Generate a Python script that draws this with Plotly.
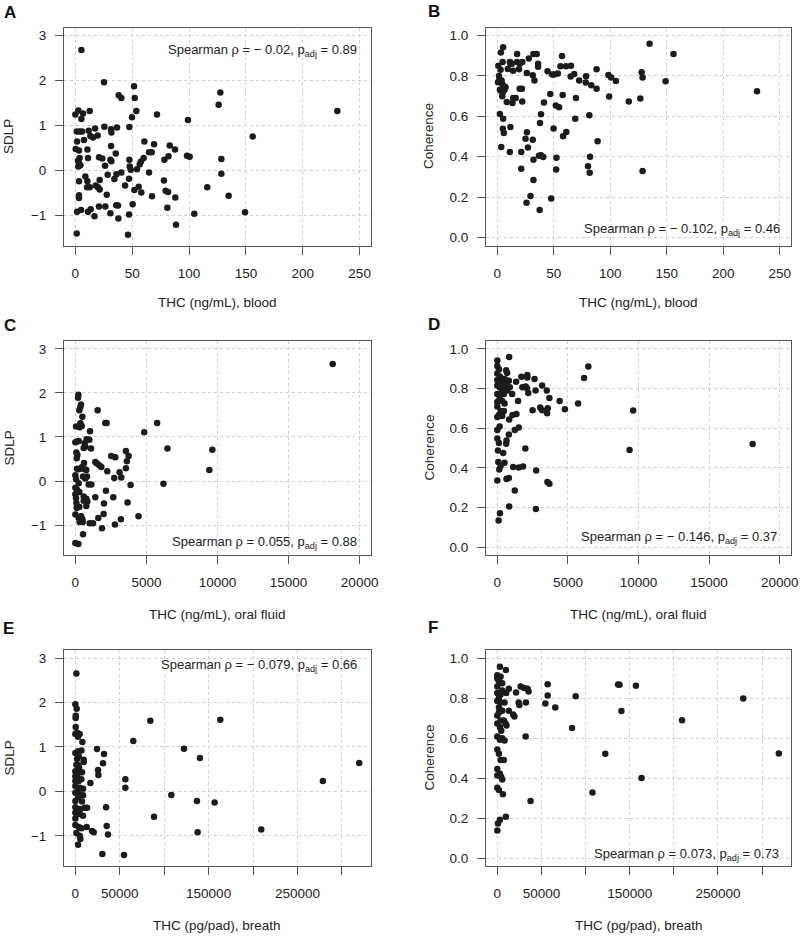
import plotly.graph_objects as go

W, H = 800, 938
FONT = "Liberation Sans, Arial, Helvetica, sans-serif"

# ---------------- data ----------------
# A: THC blood (ng/mL) vs SDLP
a_x = [5.3, 25.2, 51.6, 38.1, 40.4, 52.2, 127.5, 126, 230.4, 2.6,
       0, 6.7, 12.6, 5.3, 49.8, 53.6, 71.8, 99, 156, 25.5,
       47.5, 31.4, 36.6, 31.7, 1.2, 3.8, 5.9, 11.7, 17.3, 13.2,
       15.5, 19.6, 1.5, 7.6, 0.3, 3.2, 10.6, 2.3, 3.8, 3.2,
       2.6, 4.4, 11.1, 20.8, 23.7, 30.8, 31.7, 35.5, 31.4, 26.1,
       60.7, 64.8, 67.1, 69.2, 83, 87.6, 78.3, 81.9, 98.2, 100.5,
       128.4, 128.4, 47.5, 47.8, 48.7, 54.2, 56.6, 57.7, 60.1, 3.2,
       8.8, 10.6, 10.3, 12.6, 17.9, 19.9, 21.4, 21.4, 28.4, 34.3,
       36.1, 40.4, 47.2, 43.7, 51.9, 55.7, 58, 64.8, 77.9, 79.4,
       81.5, 87.9, 116, 134.8, 67.4, 27.6, 3.2, 3.2, 1.5, 5,
       11.1, 13.5, 16.8, 20.8, 26.4, 30.8, 36, 37.5, 37.8, 47.2,
       50.4, 80.9, 88.5, 104.6, 149.2, 1.2, 46.3]
a_y = [2.68, 1.96, 1.87, 1.67, 1.61, 1.61, 1.73, 1.46, 1.32, 1.33,
       1.24, 1.26, 1.32, 1.14, 1.18, 1.32, 1.24, 1.12, 0.75, 0.97,
       0.96, 0.91, 0.95, 0.84, 0.86, 0.86, 0.86, 0.88, 0.93, 0.76,
       0.73, 0.77, 0.64, 0.67, 0.47, 0.44, 0.46, 0.21, 0.27, 0.15,
       0.08, 0.11, 0.27, 0.29, 0.26, 0.23, 0.20, 0.37, 0.54, 0.10,
       0.64, 0.40, 0.40, 0.58, 0.55, 0.46, 0.23, 0.31, 0.32, 0.30,
       0.25, -0.08, 0.23, 0.08, 0.01, 0.02, 0.13, 0.19, 0.27, -0.25,
       -0.14, -0.25, -0.38, -0.38, -0.34, -0.38, -0.22, -0.43, -0.10, -0.20,
       -0.09, -0.05, -0.19, -0.34, -0.44, -0.37, -0.50, -0.05, -0.23, -0.46,
       -0.49, -0.61, -0.38, -0.57, -0.58, -0.55, -0.56, -0.62, -0.93, -0.89,
       -0.93, -0.87, -1.03, -0.81, -0.81, -0.96, -0.78, -0.79, -1.08, -0.99,
       -0.76, -0.84, -1.22, -0.97, -0.94, -1.41, -1.44]

# B: THC blood (ng/mL) vs Coherence
b_x = [134.8, 156, 229.9, 5.2, 3.2, 17.5, 27.9, 32, 34.9, 57.3,
       0.9, 2.9, 4.7, 11.1, 12.8, 11.6, 9.3, 14, 17.5, 22.1,
       19.2, 26.2, 31.4, 32.9, 36.1, 36.1, 44.5, 48.6, 50.3, 53.6,
       55.9, 60.8, 65.2, 64.9, 68.1, 72.5, 78.6, 78.3, 83.2, 87.9,
       87.9, 98.4, 100.7, 105, 127.8, 128.6, 149, 0.6, 2, 3.8,
       4.4, 5.8, 7.3, 2.3, 3.5, 4.9, 4.4, 6.4, 19.8, 21.8,
       8.4, 14, 16.3, 13.4, 22.1, 41.3, 46.9, 51.8, 54.7, 57.9,
       69.6, 99, 116.4, 126.6, 2.3, 5.2, 4.9, 5.8, 11.6, 26.2,
       25, 31.4, 37.8, 38.7, 49.8, 58.2, 61.1, 69, 81.5, 88.8,
       3.5, 11.1, 21.2, 27.1, 32, 36.9, 38.7, 40.7, 52.4, 52.1,
       82.1, 80.3, 81.8, 128.6, 21.2, 32, 29.4, 25.9, 47.7, 37.5,
       20, 1.5]
b_y = [0.959, 0.909, 0.724, 0.942, 0.916, 0.909, 0.886, 0.909, 0.909, 0.899,
       0.850, 0.831, 0.869, 0.869, 0.860, 0.861, 0.835, 0.826, 0.869, 0.869,
       0.833, 0.815, 0.803, 0.777, 0.860, 0.845, 0.823, 0.807, 0.807, 0.812,
       0.848, 0.848, 0.850, 0.797, 0.810, 0.777, 0.798, 0.767, 0.754, 0.833,
       0.736, 0.805, 0.792, 0.775, 0.818, 0.792, 0.774, 0.769, 0.782, 0.777,
       0.760, 0.749, 0.744, 0.731, 0.724, 0.719, 0.699, 0.731, 0.737, 0.737,
       0.671, 0.691, 0.691, 0.666, 0.674, 0.669, 0.711, 0.653, 0.645, 0.706,
       0.691, 0.698, 0.673, 0.688, 0.612, 0.588, 0.539, 0.517, 0.547, 0.521,
       0.489, 0.484, 0.567, 0.610, 0.540, 0.501, 0.522, 0.588, 0.605, 0.476,
       0.448, 0.423, 0.423, 0.445, 0.385, 0.405, 0.407, 0.398, 0.395, 0.337,
       0.400, 0.352, 0.321, 0.329, 0.340, 0.284, 0.205, 0.172, 0.193, 0.136,
       0.860, 0.800]

# C: THC oral fluid (ng/mL) vs SDLP
c_x = [18104, 210, 187, 398, 351, 281, 1567, 491, 2105, 2199,
       5754, 4842, 47, 351, 444, 304, 1029, 0, 117, 234,
       795, 982, 655, 702, 585, 1099, 6479, 9637, 3555, 70,
       140, 94, 2526, 2807, 3742, 3625, 1403, 1520, 1684, 1824,
       608, 117, 234, 351, 468, 655, 772, 2245, 3111, 3555,
       9426, 0, 47, 538, 702, 819, 936, 1123, 2737, 3228,
       3883, 6198, 0, 117, 0, 281, 585, 772, 842, 2152,
       1403, 2667, 2012, 3672, 47, 94, 398, 234, 491, 304,
       515, 1006, 1240, 1614, 1988, 1871, 2784, 3204, 4444, 538,
       0, 210, 281, 585, 70, 772, 234, 0]
c_y = [2.66, 1.96, 1.89, 1.74, 1.68, 1.61, 1.61, 1.46, 1.32, 1.32,
       1.32, 1.11, 1.24, 1.31, 1.25, 1.22, 1.13, 0.88, 0.90, 0.91,
       0.95, 0.94, 0.86, 0.78, 0.75, 0.74, 0.74, 0.71, 0.68, 0.65,
       0.59, 0.52, 0.57, 0.54, 0.57, 0.45, 0.43, 0.40, 0.36, 0.32,
       0.41, 0.28, 0.27, 0.28, 0.32, 0.27, 0.25, 0.22, 0.20, 0.29,
       0.25, 0.13, 0.04, 0.10, 0.06, 0.10, -0.08, -0.08, 0.07, 0.08,
       -0.09, -0.06, -0.15, -0.20, -0.30, -0.25, -0.35, -0.40, -0.46, -0.22,
       -0.37, -0.37, -0.51, -0.49, -0.39, -0.61, -0.80, -0.84, -0.87, -0.93,
       -0.93, -0.96, -0.96, -0.84, -0.75, -1.07, -0.99, -0.87, -0.80, -1.21,
       -1.41, -1.43, -0.59, -0.45, -0.50, -0.57, -0.05, -0.76]

# D: THC oral fluid (ng/mL) vs Coherence
d_x = [841, 6448, 6144, 9624, 9367, 18081, 0, 0, 117, 631,
       701, 0, 187, 0, 350, 514, 701, 818, 0, 164,
       397, 584, 888, 1332, 1705, 2126, 2126, 2640, 1775, 2009,
       2102, 2196, 2710, 3177, 3504, 3691, 4415, 4789, 5723, 2499,
       3037, 3177, 3574, 3528, 1472, 0, 234, 467, 701, 1051,
       0, 350, 514, 0, 234, 467, 117, 0, 350, 841,
       1075, 1355, 164, 0, 1238, 1518, 818, 0, 117, 654,
       631, 1986, 47, 420, 70, 514, 234, 140, 1121, 1518,
       1822, 2756, 0, 654, 818, 1238, 3551, 3691, 841, 2733,
       187, 93, 350, 164]
d_y = [0.959, 0.911, 0.853, 0.689, 0.490, 0.520, 0.942, 0.914, 0.897, 0.892,
       0.879, 0.876, 0.859, 0.843, 0.839, 0.848, 0.839, 0.839, 0.815, 0.806,
       0.823, 0.815, 0.806, 0.834, 0.859, 0.868, 0.856, 0.848, 0.806, 0.811,
       0.801, 0.778, 0.790, 0.816, 0.790, 0.752, 0.737, 0.695, 0.724, 0.690,
       0.705, 0.690, 0.700, 0.675, 0.737, 0.773, 0.770, 0.773, 0.790, 0.773,
       0.732, 0.737, 0.724, 0.710, 0.687, 0.687, 0.666, 0.657, 0.662, 0.644,
       0.666, 0.672, 0.608, 0.591, 0.591, 0.603, 0.568, 0.548, 0.525, 0.538,
       0.522, 0.498, 0.487, 0.475, 0.429, 0.425, 0.409, 0.392, 0.404, 0.401,
       0.407, 0.386, 0.336, 0.343, 0.349, 0.285, 0.329, 0.320, 0.205, 0.192,
       0.171, 0.134, 0.790, 0.748]

# E: THC breath (pg/pad) vs SDLP
e_x = [1125, 0, 1500, 375, 375, 375, 0, 1875, 4875, 3000,
       7875, 84375, 163125, 65250, 122250, 24375, 32250, 31125, 140250, 319500,
       278625, 0, 3000, 6750, 1875, 9375, 9375, 3000, 4125, 0,
       4875, 7500, 25500, 25875, 0, 3000, 0, 3750, 6750, 16875,
       56250, 56250, 0, 4875, 8625, 0, 4875, 3000, 8625, 108000,
       0, 7500, 136875, 156750, 0, 3000, 10500, 13125, 34500, 0,
       4875, 8625, 88500, 0, 0, 3750, 6750, 12750, 18750, 20625,
       35250, 36750, 1125, 4875, 5625, 3000, 137625, 209250, 30375, 54750,
       1125, 3000, 5625, 3750]
e_y = [2.65, 1.96, 1.86, 1.70, 1.65, 1.45, 1.29, 1.32, 1.29, 1.23,
       1.11, 1.59, 1.61, 1.13, 0.96, 0.95, 0.84, 0.63, 0.75, 0.64,
       0.23, 0.86, 0.90, 0.92, 0.73, 0.71, 0.66, 0.59, 0.54, 0.45,
       0.43, 0.43, 0.48, 0.37, 0.34, 0.30, 0.23, 0.23, 0.27, 0.19,
       0.27, 0.08, 0.12, 0.08, 0.06, -0.03, -0.07, -0.14, -0.09, -0.08,
       -0.22, -0.23, -0.22, -0.25, -0.36, -0.40, -0.37, -0.37, -0.36, -0.48,
       -0.51, -0.55, -0.57, -0.61, -0.76, -0.80, -0.83, -0.80, -0.89, -0.92,
       -0.78, -0.97, -0.94, -1.00, -1.07, -1.20, -0.92, -0.86, -1.41, -1.43,
       0.60, 0.04, -0.40, 0.79]

# F: THC breath (pg/pad) vs Coherence
f_x = [2985, 9700, 0, 0, 3731, 1866, 5597, 0, 13059, 10074,
       21267, 26490, 30594, 34326, 35445, 57084, 57084, 54473, 65666, 88798,
       136928, 138420, 157075, 140659, 278707, 209311, 84695, 319000, 122377, 163418,
       107826, 37683, 32087, 0, 3731, 0, 3731, 8208, 24252, 25000,
       32460, 1866, 5597, 13059, 17909, 19401, 0, 3731, 0, 7462,
       9327, 2985, 10447, 0, 5597, 8208, 0, 1866, 3731, 7462,
       0, 2985, 0, 4477, 5597, 0, 1866, 6343, 746, 2985,
       9700, 0, 2985, 4477, 1866, 5597, 1866]
f_y = [0.956, 0.940, 0.914, 0.898, 0.906, 0.882, 0.874, 0.858, 0.846, 0.825,
       0.827, 0.858, 0.850, 0.846, 0.833, 0.869, 0.812, 0.773, 0.752, 0.809,
       0.867, 0.866, 0.861, 0.735, 0.798, 0.689, 0.650, 0.523, 0.521, 0.400,
       0.328, 0.285, 0.608, 0.825, 0.817, 0.785, 0.777, 0.777, 0.777, 0.765,
       0.777, 0.752, 0.736, 0.736, 0.717, 0.707, 0.712, 0.688, 0.672, 0.688,
       0.672, 0.655, 0.663, 0.607, 0.599, 0.587, 0.542, 0.521, 0.490, 0.490,
       0.445, 0.421, 0.413, 0.405, 0.393, 0.351, 0.340, 0.319, 0.173, 0.191,
       0.206, 0.138, 0.591, 0.636, 0.801, 0.837, 0.728]

panel_letters = ["A", "B", "C", "D", "E", "F"]
x_titles = ["THC (ng/mL), blood", "THC (ng/mL), blood",
            "THC (ng/mL), oral fluid", "THC (ng/mL), oral fluid",
            "THC (pg/pad), breath", "THC (pg/pad), breath"]
y_titles = ["SDLP", "Coherence"]
stats = ["Spearman ρ = − 0.02, p<sub>adj</sub> = 0.89",
         "Spearman ρ = − 0.102, p<sub>adj</sub> = 0.46",
         "Spearman ρ = 0.055, p<sub>adj</sub> = 0.88",
         "Spearman ρ = − 0.146, p<sub>adj</sub> = 0.37",
         "Spearman ρ = − 0.079, p<sub>adj</sub> = 0.66",
         "Spearman ρ = 0.073, p<sub>adj</sub> = 0.73"]

blood_ticks = [0, 50, 100, 150, 200, 250]
oral_ticks = [0, 5000, 10000, 15000, 20000]
breath_labeled_ticks = [0, 50000, 150000, 250000]
breath_unlabeled_ticks = [100000, 200000, 300000]
sdlp_ticks = [-1, 0, 1, 2, 3]
coh_ticks = [0.0, 0.2, 0.4, 0.6, 0.8, 1.0]

# ---------------- layout geometry (pixels) ----------------
cols = [(64, 371), (486, 791)]
rows = [(27.5, 245.5), (341, 555), (650, 866)]
xtitle_y = [302, 614, 925]
ytitle_x = [8.5, 428.5]
letter_pos = [(2, 13), (426, 12), (2, 325), (426, 324), (1, 628), (426, 627)]
stat_pos = [(359, 50), (782, 230), (359, 542), (779, 537), (359, 665), (781, 854)]


def px(x):
    return x / W


def py(y):
    return 1 - y / H


series = [(a_x, a_y), (b_x, b_y), (c_x, c_y), (d_x, d_y), (e_x, e_y), (f_x, f_y)]
xranges = [[-10, 260], [-10, 260], [-800, 20800], [-800, 20800],
           [-12800, 332800], [-12800, 332800]]

fig = go.Figure()
TXT = "#222222"
LINE = "#555555"
GRID = "#cfcfcf"

annotations = []
for i, (xs, ys) in enumerate(series):
    r, c = divmod(i, 2)
    xa = "x" if i == 0 else f"x{i+1}"
    ya = "y" if i == 0 else f"y{i+1}"
    fig.add_trace(go.Scatter(x=xs, y=ys, mode="markers", xaxis=xa, yaxis=ya,
                             marker=dict(size=6.5, color="#1c1c1c"),
                             showlegend=False, hoverinfo="x+y"))
    x0, x1 = cols[c]
    y0, y1 = rows[r]
    minor = None
    if r == 0:
        tv = blood_ticks
    elif r == 1:
        tv = oral_ticks
    else:
        tv = breath_labeled_ticks
        minor = dict(tickmode="array", tickvals=breath_unlabeled_ticks,
                     ticks="outside", ticklen=8, tickcolor=LINE, tickwidth=1,
                     showgrid=True, gridcolor=GRID, griddash="dot", gridwidth=1)
    tt = [str(v) for v in tv]
    if c == 0:
        yv, yt, yr = sdlp_ticks, [("−" + str(-v)) if v < 0 else str(v) for v in sdlp_ticks], [-1.68, 3.18]
    else:
        yv, yt, yr = coh_ticks, [f"{v:.1f}" for v in coh_ticks], [-0.04, 1.04]
    common = dict(showline=True, mirror=True, linecolor=LINE, linewidth=1,
                  ticks="outside", ticklen=8, tickcolor=LINE, tickwidth=1,
                  showgrid=True, gridcolor=GRID, griddash="dot", gridwidth=1,
                  zeroline=False, automargin=False,
                  tickfont=dict(family=FONT, size=13.5, color=TXT))
    xdict = dict(domain=[px(x0), px(x1)], anchor=ya, range=xranges[i],
                 tickmode="array", tickvals=tv, ticktext=tt, ticklabelstandoff=7, **common)
    if minor is not None:
        xdict["minor"] = minor
    fig.layout[("xaxis" if i == 0 else f"xaxis{i+1}")] = xdict
    fig.layout[("yaxis" if i == 0 else f"yaxis{i+1}")] = dict(
        domain=[py(y1), py(y0)], anchor=xa, range=yr,
        tickmode="array", tickvals=yv, ticktext=yt, ticklabelstandoff=6, **common)

    # x axis title
    annotations.append(dict(text=x_titles[i], x=px((x0 + x1) / 2), y=py(xtitle_y[r]),
                            xref="paper", yref="paper", showarrow=False,
                            xanchor="center", yanchor="middle",
                            font=dict(family=FONT, size=13.5, color=TXT)))
    # y axis title
    annotations.append(dict(text=y_titles[c], x=px(ytitle_x[c]), y=py((y0 + y1) / 2),
                            xref="paper", yref="paper", showarrow=False, textangle=-90,
                            xanchor="center", yanchor="middle",
                            font=dict(family=FONT, size=13.5, color=TXT)))
    # panel letter
    lx, ly = letter_pos[i]
    annotations.append(dict(text=f"<b>{panel_letters[i]}</b>", x=px(lx), y=py(ly),
                            xref="paper", yref="paper", showarrow=False,
                            xanchor="left", yanchor="middle",
                            font=dict(family=FONT, size=17, color="#111111")))
    # statistic
    sx, sy = stat_pos[i]
    annotations.append(dict(text=stats[i], x=px(sx), y=py(sy),
                            xref="paper", yref="paper", showarrow=False,
                            xanchor="right", yanchor="middle",
                            font=dict(family=FONT, size=13, color=TXT)))

fig.update_layout(width=W, height=H, margin=dict(l=0, r=0, t=0, b=0),
                  paper_bgcolor="white", plot_bgcolor="white", template="none",
                  annotations=annotations, font=dict(family=FONT, color=TXT))

# remove the browser's default 8px page margin so the figure fills the window
fig.write_html("out.html", config={"displayModeBar": False},
               post_script="document.body.style.margin='0';document.body.style.overflow='hidden';")
